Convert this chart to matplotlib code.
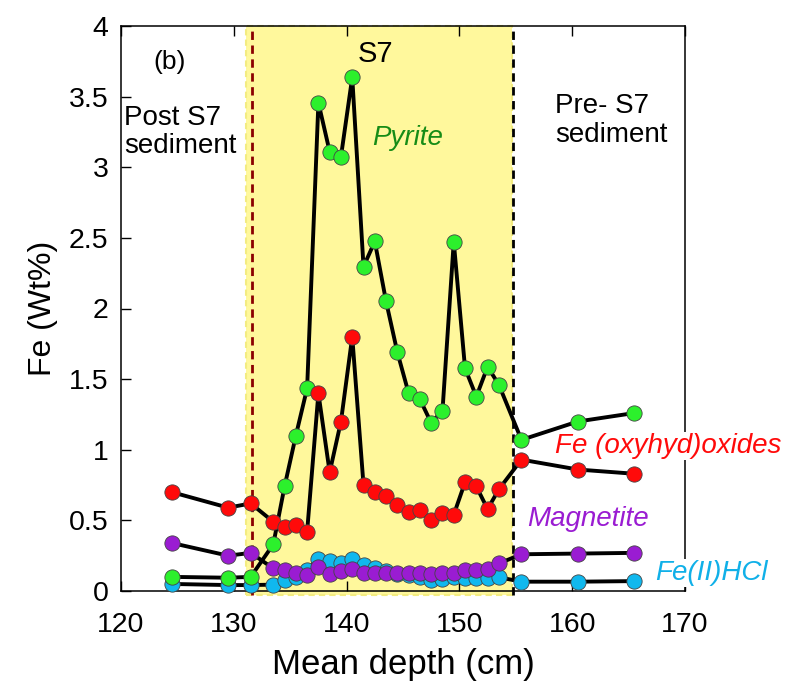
import matplotlib
matplotlib.use("Agg")
import matplotlib.pyplot as plt
from matplotlib.patches import Rectangle

plt.rcParams['font.family'] = ['Liberation Sans', 'DejaVu Sans']

depth = [124.5, 129.5, 131.5, 133.5, 134.5, 135.5, 136.5, 137.5, 138.5, 139.5,
         140.5, 141.5, 142.5, 143.5, 144.5, 145.5, 146.5, 147.5, 148.5, 149.5,
         150.5, 151.5, 152.5, 153.5, 155.5, 160.5, 165.5]
pyrite = [0.10, 0.094, 0.10, 0.33, 0.74, 1.10, 1.435, 3.457, 3.11, 3.075,
          3.637, 2.296, 2.475, 2.05, 1.69, 1.40, 1.357, 1.19, 1.276, 2.473,
          1.577, 1.376, 1.588, 1.46, 1.07, 1.20, 1.26]
oxides = [0.70, 0.59, 0.62, 0.49, 0.455, 0.467, 0.42, 1.40, 0.84, 1.20,
          1.80, 0.75, 0.70, 0.67, 0.61, 0.56, 0.57, 0.50, 0.55, 0.54,
          0.77, 0.74, 0.58, 0.72, 0.93, 0.86, 0.83]
magnetite = [0.34, 0.25, 0.27, 0.16, 0.15, 0.13, 0.11, 0.17, 0.12, 0.145,
             0.155, 0.125, 0.125, 0.13, 0.13, 0.13, 0.13, 0.12, 0.125, 0.13,
             0.15, 0.15, 0.155, 0.195, 0.26, 0.265, 0.27]
feHCl = [0.05, 0.042, 0.042, 0.045, 0.078, 0.10, 0.15, 0.23, 0.21, 0.20,
         0.23, 0.184, 0.16, 0.14, 0.12, 0.11, 0.10, 0.08, 0.085, 0.10,
         0.09, 0.09, 0.09, 0.097, 0.066, 0.066, 0.07]

s7_start, s7_end = 131.6, 154.75
xticks = [120, 130, 140, 150, 160, 170]
yticks = [0, 0.5, 1, 1.5, 2, 2.5, 3, 3.5, 4]
ytick_labels = ['0', '0.5', '1', '1.5', '2', '2.5', '3', '3.5', '4']

fig = plt.figure(figsize=(7.86, 6.97), dpi=100)
ax = fig.add_axes([121/786, 1-591/697, (685-121)/786, (591-26)/697])

ax.add_patch(Rectangle((131.1, -0.03), 154.7-131.1, 4.03, facecolor='#FFF89C',
                       edgecolor='#F3EC82', linestyle=(0, (3, 2)), linewidth=1.5,
                       clip_on=False, zorder=0))
ax.plot([s7_start, s7_start], [-0.03, 4], color='#8B0000', linestyle=(0, (3, 2)),
        linewidth=2, clip_on=False, zorder=1)
ax.plot([s7_end, s7_end], [-0.03, 4], color='black', linestyle=(0, (3, 2)),
        linewidth=2, clip_on=False, zorder=1)

series = [(feHCl, '#10B8EE', 3), (pyrite, '#2CF02C', 4), (oxides, '#FF0A0A', 5),
          (magnetite, '#9A1CD2', 6)]
for vals, col, z in series:
    ax.plot(depth, vals, color='black', linewidth=2.8, marker='o', markersize=11,
            markerfacecolor=col, markeredgecolor='#444444', markeredgewidth=0.6,
            zorder=z, clip_on=False)

ax.set_xlim(120, 170)
ax.set_ylim(0, 4)
ax.set_xticks(xticks)
ax.set_yticks(yticks)
ax.set_yticklabels(ytick_labels)
ax.tick_params(direction='in', length=7.5, width=1, labelsize=20.5, top=True,
               right=False)
ax.tick_params(axis='y', pad=9)
ax.tick_params(axis='x', pad=15)
for sp in ax.spines.values():
    sp.set_linewidth(1.1)

ax.set_xlabel('Mean depth (cm)', fontsize=25, labelpad=7)
ax.set_ylabel('Fe (Wt%)', fontsize=23, labelpad=8)

wbox = dict(facecolor='white', edgecolor='none', pad=1)
ax.text(124.34, 3.745, '(b)', fontsize=19, ha='center', va='center')
ax.text(142.6, 3.80, 'S7', fontsize=21, ha='center', va='center')
ax.text(120.3, 3.25, 'Post S7\nsediment', fontsize=20, ha='left', va='center',
        linespacing=1.12)
ax.text(158.5, 3.33, 'Pre- S7\nsediment', fontsize=20, ha='left', va='center',
        linespacing=1.12)
ax.text(145.44, 3.207, 'Pyrite', fontsize=20, style='italic', color='#168C16',
        ha='center', va='center')
ax.text(158.48, 1.027, 'Fe (oxyhyd)oxides', fontsize=20, style='italic',
        color='#FF0A0A', ha='left', va='center', clip_on=False, bbox=wbox,
        zorder=2.7)
ax.text(156.0, 0.51, 'Magnetite', fontsize=20, style='italic', color='#9A1CD2',
        ha='left', va='center')
ax.text(167.34, 0.127, 'Fe(II)HCl', fontsize=20, style='italic', color='#10B0E8',
        ha='left', va='center', clip_on=False, bbox=wbox, zorder=2.7)

fig.savefig('out.png', dpi=100)
